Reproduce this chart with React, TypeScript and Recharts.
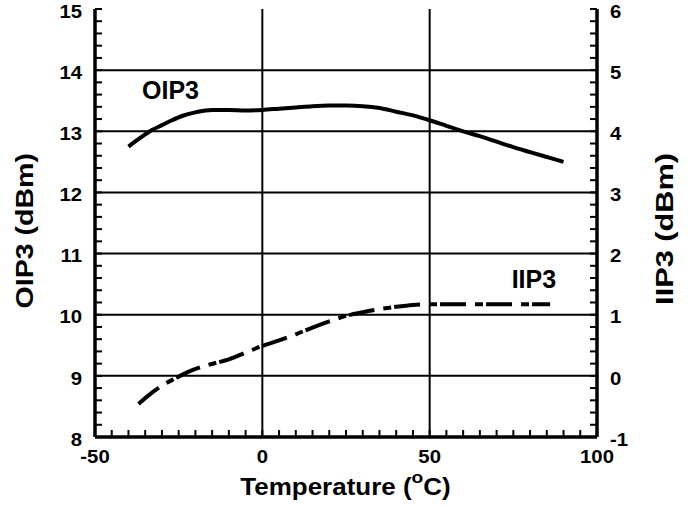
import React from 'react';
import { LineChart, Line, XAxis, YAxis, ReferenceLine, ReferenceDot, Label } from 'recharts';

// ---- data ----
const tempOIP3 = [-40, -37, -33, -30, -27, -24, -20, -15, -10, -5, 0, 5, 10, 15, 20, 25, 30, 35, 40, 45, 50, 55, 60, 65, 70, 75, 80, 85, 90];
const oip3 = [12.75, 12.87, 13.02, 13.1, 13.18, 13.25, 13.31, 13.35, 13.35, 13.34, 13.35, 13.37, 13.39, 13.41, 13.42, 13.42, 13.41, 13.38, 13.32, 13.26, 13.18, 13.09, 13.0, 12.92, 12.83, 12.74, 12.66, 12.58, 12.5];

const tempIIP3 = [-37, -34, -30, -26, -22, -18, -14, -10, -5, 0, 5, 10, 15, 20, 25, 30, 35, 40, 45, 50, 60, 70, 80, 86];
const iip3 = [-0.46, -0.32, -0.16, -0.04, 0.07, 0.15, 0.21, 0.27, 0.38, 0.49, 0.58, 0.68, 0.79, 0.89, 0.98, 1.04, 1.09, 1.13, 1.16, 1.17, 1.17, 1.17, 1.17, 1.17];

// ---- axes ----
const xMajor = [-50, 0, 50, 100];
const leftMajor = [8, 9, 10, 11, 12, 13, 14, 15];
const rightMajor = [-1, 0, 1, 2, 3, 4, 5, 6];
const xGrid = [0, 50];
const leftGrid = [9, 10, 11, 12, 13, 14];

const subdivide = (majors: number[], n: number) => {
  const out: number[] = [];
  for (let i = 0; i < majors.length - 1; i++) {
    const a = majors[i];
    const b = majors[i + 1];
    for (let k = 0; k < n; k++) out.push(Math.round((a + ((b - a) * k) / n) * 1000) / 1000);
  }
  out.push(majors[majors.length - 1]);
  return out;
};
const xTicks = subdivide(xMajor, 10);
const leftTicks = subdivide(leftMajor, 5);
const rightTicks = subdivide(rightMajor, 5);

const oipData = tempOIP3.map((t, i) => ({ x: t, y: oip3[i] }));
const iipData = tempIIP3.map((t, i) => ({ x: t, y: iip3[i] }));

// ---- layout ----
const W = 691;
const H = 508;
const PLOT_LEFT = 95;
const PLOT_RIGHT = 597;
const PLOT_TOP = 9;
const PLOT_BOTTOM = 437;
const TICK_LEN = 7;
const FONT = "'Liberation Sans', Arial, Helvetica, sans-serif";
const BOTTOM_LABEL_Y = 463;
const LEFT_LABEL_X = 82;
const RIGHT_LABEL_X = 610;
const TICK_FS = 19;
const TICK_SX = 1.07;

const axisLine = { stroke: '#000', strokeWidth: 3.5 };

const labelProps = { fontSize: TICK_FS, fontWeight: 'bold', fontFamily: FONT, fill: '#000' } as const;

const BottomTick = (props: any) => {
  const { x, payload } = props;
  const major = xMajor.includes(payload.value);
  return (
    <g>
      <line x1={x} x2={x} y1={PLOT_BOTTOM} y2={PLOT_BOTTOM - TICK_LEN} stroke="#000" strokeWidth={2} />
      {major && (
        <text transform={`translate(${x} ${BOTTOM_LABEL_Y}) scale(${TICK_SX} 1)`} textAnchor="middle" {...labelProps}>
          {payload.value}
        </text>
      )}
    </g>
  );
};
const TopTick = (props: any) => {
  const { x } = props;
  return <line x1={x} x2={x} y1={PLOT_TOP} y2={PLOT_TOP + TICK_LEN} stroke="#000" strokeWidth={2} />;
};
const LeftTick = (props: any) => {
  const { y, payload } = props;
  const major = leftMajor.includes(payload.value);
  return (
    <g>
      <line x1={PLOT_LEFT} x2={PLOT_LEFT + TICK_LEN} y1={y} y2={y} stroke="#000" strokeWidth={2} />
      {major && (
        <text transform={`translate(${LEFT_LABEL_X} ${y + 8.7}) scale(${TICK_SX} 1)`} textAnchor="end" {...labelProps}>
          {payload.value}
        </text>
      )}
    </g>
  );
};
const RightTick = (props: any) => {
  const { y, payload } = props;
  const major = rightMajor.includes(payload.value);
  return (
    <g>
      <line x1={PLOT_RIGHT} x2={PLOT_RIGHT - TICK_LEN} y1={y} y2={y} stroke="#000" strokeWidth={2} />
      {major && (
        <text transform={`translate(${RIGHT_LABEL_X} ${y + 8.7}) scale(${TICK_SX} 1)`} textAnchor="start" {...labelProps}>
          {payload.value}
        </text>
      )}
    </g>
  );
};

const XTitle = () => (
  <text transform="translate(345.5 494.5) scale(1.13 1)" textAnchor="middle" fontSize={23} fontWeight="bold" fontFamily={FONT} fill="#000">
    Temperature (
    <tspan dy={-12} fontSize={17}>o</tspan>
    <tspan dy={12}>C)</tspan>
  </text>
);
const LeftTitle = () => (
  <text transform="translate(32.7 230.7) rotate(-90) scale(1.19 1)" textAnchor="middle" fontSize={24} fontWeight="bold" fontFamily={FONT} fill="#000">
    OIP3 (dBm)
  </text>
);
const RightTitle = () => (
  <text transform="translate(673 229) rotate(-90) scale(1.28 1)" textAnchor="middle" fontSize={24} fontWeight="bold" fontFamily={FONT} fill="#000">
    IIP3 (dBm)
  </text>
);

const SeriesLabel = (props: any) => {
  const { viewBox, text } = props;
  return (
    <text x={viewBox.x} y={viewBox.y} fontSize={25} fontWeight="bold" fontFamily={FONT} fill="#000">
      {text}
    </text>
  );
};

export default function App() {
  return (
    <div style={{ position: 'absolute', left: 0, top: 0, width: W, height: H, background: '#fff' }}>
      <LineChart width={W} height={H} margin={{ top: PLOT_TOP, right: 0, bottom: 0, left: 0 }}>
        <XAxis xAxisId="x" type="number" dataKey="x" domain={[-50, 100]} ticks={xTicks} interval={0} height={H - PLOT_BOTTOM}
          axisLine={axisLine} tickLine={false} tick={BottomTick}>
          <Label content={XTitle} />
        </XAxis>
        <XAxis xAxisId="top" orientation="top" type="number" dataKey="x" domain={[-50, 100]} ticks={xTicks} interval={0} height={0}
          axisLine={axisLine} tickLine={false} tick={TopTick} />
        <YAxis yAxisId="l" type="number" domain={[8, 15]} ticks={leftTicks} interval={0} width={PLOT_LEFT}
          axisLine={axisLine} tickLine={false} tick={LeftTick}>
          <Label content={LeftTitle} />
        </YAxis>
        <YAxis yAxisId="r" orientation="right" type="number" domain={[-1, 6]} ticks={rightTicks} interval={0} width={W - PLOT_RIGHT}
          axisLine={axisLine} tickLine={false} tick={RightTick}>
          <Label content={RightTitle} />
        </YAxis>
        {xGrid.map((v) => (
          <ReferenceLine key={'gx' + v} xAxisId="x" yAxisId="l" x={v} stroke="#000" strokeWidth={2} />
        ))}
        {leftGrid.map((v) => (
          <ReferenceLine key={'gy' + v} xAxisId="x" yAxisId="l" y={v} stroke="#000" strokeWidth={2} />
        ))}
        <Line xAxisId="x" yAxisId="l" data={oipData} dataKey="y" type="monotone" stroke="#000" strokeWidth={4} dot={false} isAnimationActive={false} />
        <Line xAxisId="x" yAxisId="r" data={iipData} dataKey="y" type="monotone" stroke="#000" strokeWidth={4} strokeDasharray="26 9 8 3" dot={false} isAnimationActive={false} />
        <ReferenceDot xAxisId="x" yAxisId="l" x={-35.95} y={13.52} r={0} fill="none" stroke="none" label={<SeriesLabel text="OIP3" />} />
        <ReferenceDot xAxisId="x" yAxisId="l" x={74.5} y={10.43} r={0} fill="none" stroke="none" label={<SeriesLabel text="IIP3" />} />
      </LineChart>
    </div>
  );
}
